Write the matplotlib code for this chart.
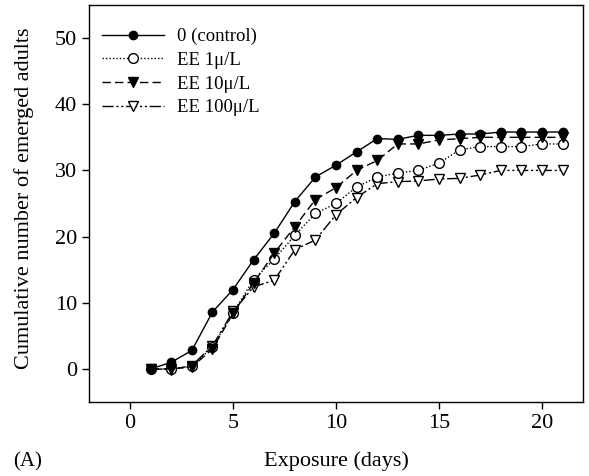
import numpy as np
import matplotlib.pyplot as plt

plt.rcParams['font.family'] = ['Liberation Serif', 'DejaVu Serif']

days = np.arange(1, 22)
control = [0, 1.0, 2.8, 8.6, 12.0, 16.5, 20.5, 25.3, 29.0, 30.8, 32.8, 34.8,
           34.7, 35.3, 35.3, 35.5, 35.5, 35.8, 35.8, 35.8, 35.8]
ee1 = [0, 0, 0.4, 3.3, 8.5, 13.5, 16.6, 20.2, 23.5, 25.0, 27.5, 29.0,
       29.6, 30.0, 31.1, 33.1, 33.6, 33.6, 33.6, 34.0, 34.0]
ee10 = [0, 0, 0.3, 3.0, 8.4, 13.0, 17.5, 21.5, 25.6, 27.4, 30.0, 31.5,
        34.0, 34.0, 34.6, 34.8, 35.0, 35.0, 35.0, 35.0, 35.0]
ee100 = [0, -0.1, 0.5, 3.5, 8.7, 12.4, 13.4, 18.0, 19.5, 23.3, 25.9, 28.0,
         28.3, 28.4, 28.7, 28.8, 29.3, 30.0, 30.0, 30.0, 30.0]
labels = ['0 (control)', 'EE 1\u03bc/L', 'EE 10\u03bc/L', 'EE 100\u03bc/L']

fig = plt.figure(figsize=(5.89, 4.76), dpi=100)
ax = fig.add_axes([0.151, 0.1555, 0.839, 0.834])

lw = 1.0
ax.plot(days, control, '-', color='black', lw=lw, marker='o', ms=6,
        mfc='black', mec='black', label=labels[0], zorder=5)
ax.plot(days, ee1, color='black', lw=lw, ls=(0, (1, 1.5)), marker='o', ms=7,
        mfc='white', mec='black', mew=1.0, label=labels[1], zorder=3)
ax.plot(days, ee10, color='black', lw=lw, ls=(0, (6, 3)), marker='v', ms=6.5,
        mfc='black', mec='black', label=labels[2], zorder=4)
ax.plot(days, ee100, color='black', lw=lw, ls=(0, (8, 2, 1.5, 2, 1.5, 2)),
        marker='v', ms=7, mfc='white', mec='black', mew=1.0,
        label=labels[3], zorder=2)

ax.set_xlim(-2, 22)
ax.set_ylim(-5, 55)
ax.set_xticks([0, 5, 10, 15, 20])
ax.set_yticks([0, 10, 20, 30, 40, 50])
ax.tick_params(direction='out', length=5, width=1, labelsize=16, top=False, right=False)
for s in ax.spines.values():
    s.set_linewidth(1.0)

ax.set_xlabel('Exposure (days)', fontsize=16)
ax.xaxis.set_label_coords(0.5, -0.125)
ax.set_ylabel('Cumulative number of emerged adults', fontsize=16)
ax.yaxis.set_label_coords(-0.111, 0.514)
fig.text(0.022, 0.02, '(A)', fontsize=15)

leg = ax.legend(loc='upper left', bbox_to_anchor=(0.0, 0.975), frameon=False,
                fontsize=13.5, handlelength=3.3, handletextpad=0.7,
                labelspacing=0.35, borderaxespad=0.3)

fig.savefig('out.png', dpi=100)
